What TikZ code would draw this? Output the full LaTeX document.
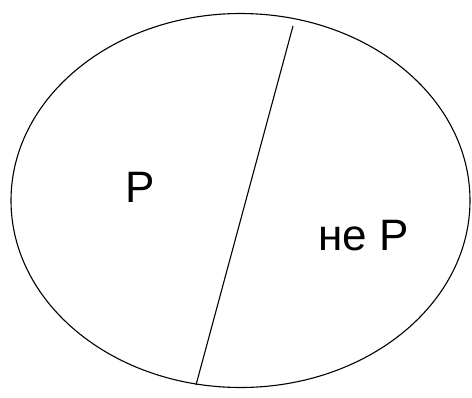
\documentclass[tikz,border=0pt]{standalone}
\usepackage{fontspec}
\setmainfont{Liberation Sans}
\begin{document}
\begin{tikzpicture}[x=1pt,y=-1pt,
  outline/.style={draw=black,line width=1.1pt},
  lbl/.style={inner sep=0pt,anchor=base,font=\fontsize{44}{50}\selectfont}]
\useasboundingbox (0,0) rectangle (472,397);
\draw[outline] (240.5,200.5) ellipse [x radius=229.5, y radius=187];
\coordinate (top) at (293,26);
\coordinate (bot) at (196,385);
\draw[outline] (top) -- (bot);
\node[lbl] (p) at (140,202) {P};
\node[lbl] (np) at (363.5,250) {не P};
\end{tikzpicture}
\end{document}
